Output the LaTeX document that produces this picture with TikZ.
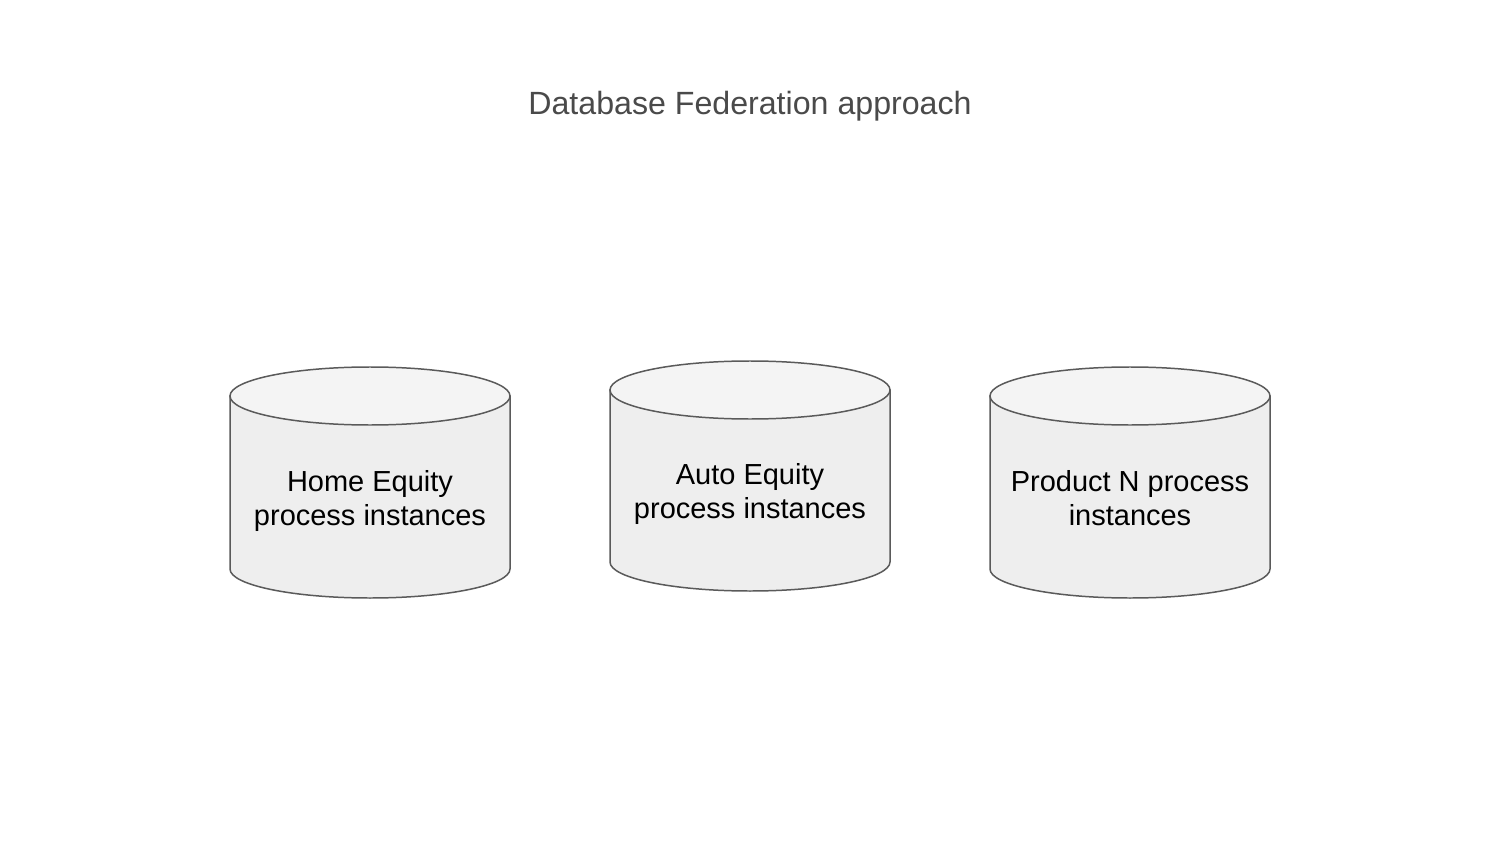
\documentclass[tikz,border=0pt]{standalone}
\usepackage{fontspec}
\setmainfont{Liberation Sans}
\definecolor{dbline}{HTML}{5A5A5A}
\definecolor{dbfill}{HTML}{EEEEEE}
\definecolor{dbtopfill}{HTML}{F4F4F4}
\definecolor{titlegray}{HTML}{4A4A4A}
\tikzset{
    dbshape/.style={draw=dbline, line width=0.85pt, fill=dbfill},
    dbtop/.style={draw=dbline, line width=0.85pt, fill=dbtopfill},
    dblabel/.style={align=center, font=\fontsize{16.5}{19.5}\selectfont, text=black},
}
\begin{document}
\begin{tikzpicture}[x=0.02cm, y=-0.02cm]
    \useasboundingbox[fill=white] (0,0) rectangle (1500,844);

    \node[font=\fontsize{18.3}{22}\selectfont, text=titlegray] (title) at (750,106) {Database Federation approach};

    % cylinders: centre x, top ellipse y, bottom ellipse y
    \foreach \cx/\ty/\by in {370/396/569, 750/390/562, 1130/396/569} {
        \path[dbshape] (\cx-140,\ty) -- (\cx-140,\by)
            arc[start angle=180, end angle=0, x radius=140, y radius=29]
            -- (\cx+140,\ty) -- cycle;
        \path[dbtop] (\cx,\ty) ellipse [x radius=140, y radius=29];
    }

    \node[dblabel] (home) at (370,501) {Home Equity\\process instances};
    \node[dblabel] (auto) at (750,494) {Auto Equity\\process instances};
    \node[dblabel] (prodn) at (1130,498) {Product N process\\instances};
\end{tikzpicture}
\end{document}
